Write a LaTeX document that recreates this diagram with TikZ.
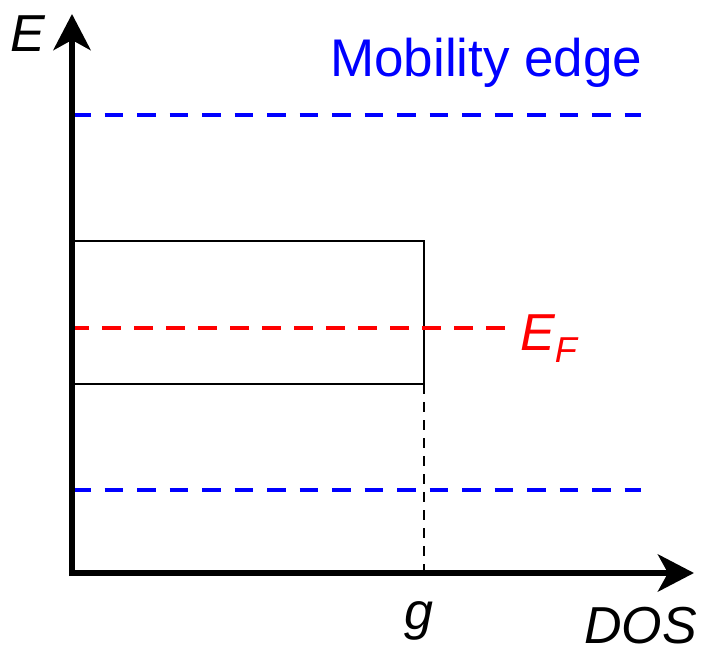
\documentclass[tikz,border=0pt]{standalone}
\usepackage{fontspec}
\setmainfont{Liberation Sans}
\usetikzlibrary{arrows.meta}
\begin{document}
\begin{tikzpicture}[x=1pt,y=-1pt,
  axis/.style={line width=6.5pt,-{Stealth[length=36pt,width=37pt,inset=10pt]}},
  mobline/.style={blue,line width=4.5pt,dash pattern=on 18.5pt off 14pt},
  fermiline/.style={red,line width=4.5pt,dash pattern=on 19pt off 13pt},
  gline/.style={black,line width=2pt,dash pattern=on 10pt off 8pt},
  boxline/.style={black,line width=2pt},
  lbl/.style={inner sep=0pt,anchor=base west,font=\fontsize{52}{60}\selectfont\itshape}]
\useasboundingbox (0,0) rectangle (702,650);
\coordinate (O) at (72,573);
\coordinate (Ytip) at (72,14);
\coordinate (Xtip) at (694,573);
% mobility edges
\coordinate (mt1) at (72,115); \coordinate (mt2) at (641,115);
\coordinate (mb1) at (72,490); \coordinate (mb2) at (641,490);
\draw[mobline] (mt1) -- (mt2);
\draw[mobline] (mb1) -- (mb2);
% box
\coordinate (b1) at (72,241); \coordinate (b2) at (424,384);
\draw[boxline] (b1) -| (b2) -- (b2 -| b1);
% g line
\coordinate (g0) at (424,573);
\draw[gline] (b2) -- (g0);
% fermi
\coordinate (f1) at (70,328); \coordinate (f2) at (505,328);
\draw[fermiline] (f1) -- (f2);
% axes
\draw[axis,line cap=butt] (72,576) -- (Ytip);
\draw[axis] (69,573) -- (Xtip);
% labels
\node[lbl] (E) at (10,52) {E};
\node[lbl,blue,font=\fontsize{53}{60}\selectfont] (mob) at (330,77) {Mobility edge};
\node[lbl,red] (EF) at (520,350) {E\raisebox{-12pt}{\fontsize{36}{40}\selectfont F}};
\node[lbl] (g) at (404,629) {g};
\node[lbl] (dos) at (584,643) {DOS};
\end{tikzpicture}
\end{document}
